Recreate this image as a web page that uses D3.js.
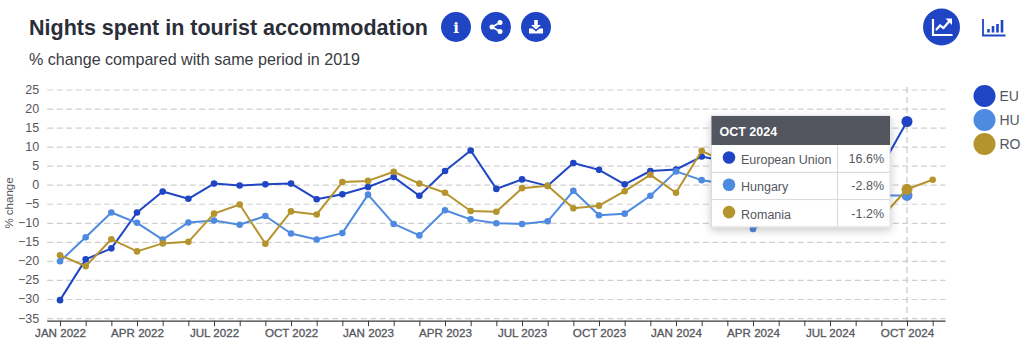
<!DOCTYPE html>
<html>
<head>
<meta charset="utf-8">
<script src="https://cdnjs.cloudflare.com/ajax/libs/d3/7.9.0/d3.min.js"></script>
<style>
    html, body { margin: 0; padding: 0; background: #fff; overflow: hidden; }
    svg { display: block; font-family: "Liberation Sans", Arial, sans-serif; }
</style>
</head>
<body>
<div id="chart"></div>
<script>
// Months Jan 2022 .. Nov 2024
const years = [2022, 2023, 2024];
const monthNames = ["JAN", "FEB", "MAR", "APR", "MAY", "JUN", "JUL", "AUG", "SEP", "OCT", "NOV", "DEC"];
const months = years.flatMap(y => monthNames.map(m => `${m} ${y}`)).slice(0, 35);

// Values. Spring to summer 2024 sits behind the tooltip, so those are estimates.
const euValues = [-30.3, -19.6, -16.7, -7.3, -1.8, -3.7, 0.3, -0.2, 0.1, 0.3, -3.8, -2.5,
    -0.6, 2.0, -2.9, 3.6, 9.0, -1.1, 1.4, -0.3, 5.7, 3.9, 0.1, 3.6,
    4.0, 7.4, 6.0, 5.0, 7.0, 6.0, 8.0, 7.0, 4.6, 16.6, null];
const huValues = [-20.1, -13.8, -7.3, -10.0, -14.4, -9.9, -9.4, -10.5, -8.2, -12.8, -14.4, -12.7,
    -2.6, -10.3, -13.3, -6.7, -9.1, -10.1, -10.3, -9.6, -1.6, -8.0, -7.6, -2.9,
    3.5, 1.2, 0.2, -11.6, -8.0, -6.0, -5.0, -4.0, -2.8, -2.8, null];
const roValues = [-18.5, -21.4, -14.3, -17.5, -15.4, -15.0, -7.6, -5.2, -15.5, -7.0, -7.8, 0.7,
    1.0, 3.4, 0.3, -2.1, -6.9, -7.1, -0.9, -0.3, -6.2, -5.5, -1.7, 2.6,
    -2.1, 8.9, 5.7, 2.0, 0.0, -3.0, -4.0, -6.0, -8.6, -1.2, 1.3];

const seriesNames = ["European Union", "Hungary", "Romania"];
const seriesCodes = ["EU", "HU", "RO"];
const seriesColors = ["#1f45c4", "#4e8ae0", "#b5942e"];
const seriesValues = [euValues, huValues, roValues];

const yTicks = [25, 20, 15, 10, 5, 0, -5, -10, -15, -20, -25, -30, -35];
const tooltipMonth = "OCT 2024";
const tooltipLabels = ["16.6%", "-2.8%", "-1.2%"];

const width = 1024, height = 359;
const margin = { top: 89.5, right: 78.5, bottom: 38.3, left: 47.2 };
const inkColor = "#2b2e38", tickColor = "#55575e", gridColor = "#cfcfcf";

const svg = d3.select("#chart").append("svg")
    .attr("width", width)
    .attr("height", height);

svg.append("defs").append("filter")
    .attr("id", "tip-shadow")
    .attr("x", "-10%").attr("y", "-10%").attr("width", "120%").attr("height", "125%")
    .append("feDropShadow")
    .attr("dx", 0).attr("dy", 3).attr("stdDeviation", 4)
    .attr("flood-color", "#000").attr("flood-opacity", 0.22);

// Scales
const xScale = d3.scalePoint()
    .domain(months)
    .range([margin.left, width - margin.right])
    .padding(0.5);

const yScale = d3.scaleLinear()
    .domain([-35.7, 25])
    .range([height - margin.bottom, margin.top]);

// Title block
svg.append("text")
    .attr("x", 29).attr("y", 35)
    .attr("fill", inkColor)
    .style("font-size", "21.5px")
    .style("font-weight", "bold")
    .text("Nights spent in tourist accommodation");

svg.append("text")
    .attr("x", 29).attr("y", 65)
    .attr("fill", "#3a3c44")
    .style("font-size", "16.1px")
    .text("% change compared with same period in 2019");

// Round buttons
const blue = seriesColors[0];
[[456, 27, 15], [496, 27, 15], [536, 27, 15], [941.5, 27, 18.5]].forEach(([cx, cy, r]) => {
    svg.append("circle").attr("cx", cx).attr("cy", cy).attr("r", r).attr("fill", blue);
});

svg.append("text")
    .attr("x", 456).attr("y", 33)
    .attr("text-anchor", "middle")
    .attr("fill", "#fff")
    .style("font-family", "'DejaVu Serif', serif")
    .style("font-size", "15px")
    .style("font-weight", "bold")
    .text("i");

// Share icon
const share = svg.append("g").attr("transform", "translate(496,27)");
share.append("path")
    .attr("d", "M4,-4.5L-4,0L4,4.5")
    .attr("fill", "none").attr("stroke", "#fff").attr("stroke-width", 1.6);
[[4, -4.5], [-4, 0], [4, 4.5]].forEach(([cx, cy]) => {
    share.append("circle").attr("cx", cx).attr("cy", cy).attr("r", 2.5).attr("fill", "#fff");
});

// Download icon
svg.append("path")
    .attr("transform", "translate(536,27)")
    .attr("d", "M-1.8,-7H1.8V-2H5L0,2.5L-5,-2H-1.8ZM-7,1.5H-3.5L0,4.5L3.5,1.5H7V6.5H-7Z")
    .attr("fill", "#fff");

// Line chart toggle icon
const trend = svg.append("g").attr("transform", "translate(941.5,27)");
trend.append("path")
    .attr("d", "M-8.5,-8V8H11")
    .attr("fill", "none").attr("stroke", "#fff").attr("stroke-width", 2.2);
trend.append("path")
    .attr("d", "M-5.5,3L-1.5,-1.5L2,1L8,-6")
    .attr("fill", "none").attr("stroke", "#fff").attr("stroke-width", 2.2);
trend.append("path")
    .attr("d", "M4,-8.5H10.5V-2Z")
    .attr("fill", "#fff");

// Bar chart toggle icon
const barIcon = svg.append("g").attr("transform", "translate(993.5,27)");
barIcon.append("path")
    .attr("d", "M-10.5,-8V8.5H12")
    .attr("fill", "none").attr("stroke", blue).attr("stroke-width", 1.8);
barIcon.append("path")
    .attr("d", "M-5,5.5V2M-0.5,5.5V-1M4,5.5V-3M8.5,5.5V-7")
    .attr("fill", "none").attr("stroke", blue).attr("stroke-width", 2.6);

// Y axis and dashed grid
const yAxis = d3.axisLeft(yScale)
    .tickValues(yTicks)
    .tickSize(-(width - margin.left - margin.right))
    .tickPadding(8);

svg.append("g")
    .attr("transform", `translate(${margin.left},0)`)
    .call(yAxis)
    .call(g => {
        g.select(".domain").remove();
        g.selectAll(".tick line")
            .attr("stroke", gridColor)
            .attr("stroke-width", 1.2)
            .attr("stroke-dasharray", "6,3.5");
        g.selectAll("text")
            .attr("fill", tickColor)
            .style("font-size", "12.5px");
    });

svg.append("text")
    .attr("transform", "translate(13,203) rotate(-90)")
    .attr("text-anchor", "middle")
    .attr("fill", tickColor)
    .style("font-size", "11.5px")
    .text("% change");

// Crosshair on the hovered month
svg.append("line")
    .attr("x1", xScale(tooltipMonth)).attr("x2", xScale(tooltipMonth))
    .attr("y1", 87).attr("y2", height - margin.bottom)
    .attr("stroke", "#bdbdbd")
    .attr("stroke-width", 1)
    .attr("stroke-dasharray", "6,4");

// X axis
const xAxis = d3.axisBottom(xScale)
    .tickSize(5.5)
    .tickPadding(2.5)
    .tickFormat((d, i) => i % 3 === 0 ? d : "");

svg.append("g")
    .attr("transform", `translate(0,${height - margin.bottom})`)
    .call(xAxis)
    .call(g => {
        g.select(".domain").attr("stroke", "#3a3a3a").attr("stroke-width", 1.2)
            .attr("d", `M${margin.left},0.5H${width - margin.right}`);
        g.selectAll(".tick line").attr("stroke", "#3a3a3a");
        g.selectAll("text")
            .attr("fill", tickColor)
            .attr("stroke", tickColor)
            .attr("stroke-width", 0.3)
            .style("font-size", "11.6px");
    });

// Lines and dots
const line = d3.line()
    .defined(d => d.value !== null)
    .x(d => xScale(d.month))
    .y(d => yScale(d.value));

seriesValues.forEach((values, i) => {
    const rows = months.map((month, j) => ({ month, value: values[j] }));

    svg.append("path")
        .datum(rows)
        .attr("fill", "none")
        .attr("stroke", seriesColors[i])
        .attr("stroke-width", 2)
        .attr("stroke-linejoin", "round")
        .attr("d", line);

    svg.append("g")
        .selectAll("circle")
        .data(rows.filter(d => d.value !== null))
        .enter()
        .append("circle")
        .attr("cx", d => xScale(d.month))
        .attr("cy", d => yScale(d.value))
        .attr("r", d => d.month === tooltipMonth ? 5.5 : 3.3)
        .attr("fill", seriesColors[i]);
});

// Legend
seriesCodes.forEach((code, i) => {
    const cy = 96 + i * 24;
    svg.append("circle")
        .attr("cx", 984.5).attr("cy", cy).attr("r", 11)
        .attr("fill", seriesColors[i]);
    svg.append("text")
        .attr("x", 999.5).attr("y", cy + 5)
        .attr("fill", tickColor)
        .style("font-size", "14px")
        .text(code);
});

// Tooltip
const tipX = 711.5, tipY = 116, tipW = 178.5;
const headH = 29, rowH = 27.3, tipDivider = 126;
const tip = svg.append("g").attr("transform", `translate(${tipX},${tipY})`);

tip.append("rect")
    .attr("width", tipW)
    .attr("height", headH + rowH * seriesNames.length)
    .attr("fill", "#fff")
    .attr("stroke", "#dcdcdc")
    .attr("filter", "url(#tip-shadow)");

tip.append("rect")
    .attr("width", tipW).attr("height", headH)
    .attr("fill", "#53555f");

tip.append("text")
    .attr("x", 8).attr("y", 19.5)
    .attr("fill", "#fff")
    .style("font-size", "12.5px")
    .style("font-weight", "bold")
    .text(tooltipMonth);

tip.append("line")
    .attr("x1", tipDivider).attr("x2", tipDivider)
    .attr("y1", headH).attr("y2", headH + rowH * seriesNames.length)
    .attr("stroke", "#d8d8d8");

seriesNames.forEach((name, i) => {
    const rowY = headH + rowH * i;
    if (i > 0) {
        tip.append("line")
            .attr("x1", 0).attr("x2", tipW)
            .attr("y1", rowY).attr("y2", rowY)
            .attr("stroke", "#d8d8d8");
    }
    tip.append("circle")
        .attr("cx", 17.5).attr("cy", rowY + 12.5).attr("r", 6.3)
        .attr("fill", seriesColors[i]);
    tip.append("text")
        .attr("x", 29.5).attr("y", rowY + 19)
        .attr("fill", tickColor)
        .style("font-size", "12.5px")
        .text(name);
    tip.append("text")
        .attr("x", tipW - 6).attr("y", rowY + 18)
        .attr("text-anchor", "end")
        .attr("fill", tickColor)
        .style("font-size", "12.5px")
        .text(tooltipLabels[i]);
});
</script>
</body>
</html>
